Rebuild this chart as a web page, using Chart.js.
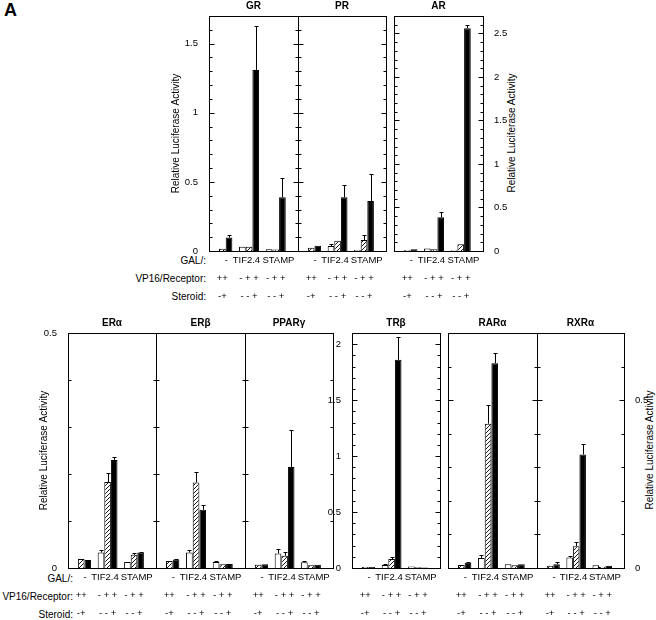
<!DOCTYPE html>
<html>
<head>
<meta charset="utf-8">
<script src="https://cdn.jsdelivr.net/npm/chart.js@4.4.1/dist/chart.umd.min.js"></script>
<style>
  body { margin: 0; background: #fff; width: 656px; height: 620px; overflow: hidden; position: relative;
         font-family: "Liberation Sans", Arial, sans-serif; color: #000; }
  canvas { position: absolute; }
  .t { position: absolute; font-size: 10px; line-height: 12px; white-space: nowrap; }
  .row { transform: translateY(-50%); text-align: right; }
  .vt { transform: translate(-50%, -50%) rotate(-90deg); }
</style>
</head>
<body>
<div class="t" style="left:4px;top:0;font-size:18px;line-height:20px;font-weight:bold">A</div>

<div class="t row" style="right:450px;top:261px">GAL/:</div>
<div class="t row" style="right:450px;top:279px">VP16/Receptor:</div>
<div class="t row" style="right:450px;top:297px">Steroid:</div>
<div class="t row" style="right:583px;top:579px">GAL/:</div>
<div class="t row" style="right:583px;top:597px">VP16/Receptor:</div>
<div class="t row" style="right:583px;top:615px">Steroid:</div>

<div class="t vt" style="left:512px;top:133px">Relative Luciferase Activity</div>
<div class="t vt" style="left:650px;top:450px">Relative Luciferase Activity</div>

<script>
// data
const receptors = ['GR', 'PR', 'AR', 'ERα', 'ERβ', 'PPARγ', 'TRβ', 'RARα', 'RXRα'];
const galFusions = ['-', 'TIF2.4', 'STAMP'];
const vp16Marks = ['++', '- + +', '- + +'];
const steroidMarks = ['-+', '- - +', '- - +'];

// one row per receptor: [-, TIF2.4, STAMP]
// white bars: no VP16/receptor, no steroid
const noVp16 = [
  [null, 0.03, 0.012], [null, 0.036, 0.007], [null, 0.03, 0.01],
  [null, 0.033, 0.013], [null, 0.033, 0.013], [null, 0.031, 0.012],
  [null, 0.027, 0.013], [null, 0.03, 0.011], [null, 0.031, 0.008]
];
// hatched bars: VP16/receptor, no steroid
const vp16Only = [
  [0.017, 0.03, 0.01], [0.024, 0.075, 0.08], [0.01, 0.02, 0.077],
  [0.019, 0.183, 0.028], [0.015, 0.182, 0.008], [0.007, 0.026, 0.006],
  [0.01, 0.08, 0.006], [0.009, 0.43, 0.008], [0.007, 0.065, 0.004]
];
// black bars: VP16/receptor + steroid
const vp16Steroid = [
  [0.097, 1.31, 0.388], [0.038, 0.388, 0.362], [0.02, 0.387, 2.56],
  [0.017, 0.23, 0.033], [0.018, 0.124, 0.0085], [0.008, 0.215, 0.007],
  [0.01, 1.86, 0.005], [0.016, 0.61, 0.011], [0.011, 0.338, 0.007]
];
// error bars (upper half only)
const noVp16Err = [
  [null, null, null], [null, 0.012, null], [null, null, null],
  [null, 0.006, null], [null, 0.005, 0.002], [null, 0.009, 0.002],
  [null, 0.005, null], [null, 0.01, null], [null, 0.006, null]
];
const vp16OnlyErr = [
  [null, null, null], [null, null, 0.035], [null, null, null],
  [null, 0.019, 0.004], [null, 0.023, null], [null, 0.008, null],
  [null, 0.02, null], [null, 0.055, null], [null, 0.012, null]
];
const vp16SteroidErr = [
  [0.018, 0.32, 0.14], [null, 0.087, 0.193], [null, 0.063, 0.04],
  [null, 0.007, 0.002], [0.002, 0.009, null], [null, 0.079, null],
  [null, 0.2, null], [0.002, 0.03, null], [0.008, 0.032, null]
];

const yMax = [1.7, 1.7, 2.7, 0.5, 0.5, 0.5, 2.1, 0.7, 0.7];
const topTicks = [0, 0.5, 1, 1.5];
const arTicks = [0, 0.5, 1, 1.5, 2, 2.5];
const erTicks = [0, 0.5];
const trTicks = [0, 0.5, 1, 1.5, 2];
const rarTicks = [0, 0.5];

// page layout of the panel frames
const panelBoxes = [
  { x0: 209, x1: 298, y0: 16, y1: 251, ticks: topTicks, side: 'left', yTitle: true, padL: 43 },
  { x0: 298, x1: 386, y0: 16, y1: 251, ticks: topTicks },
  { x0: 394, x1: 483, y0: 16, y1: 251, ticks: arTicks, side: 'right' },
  { x0: 68, x1: 156, y0: 333, y1: 568, ticks: erTicks, side: 'left', yTitle: true, padL: 34 },
  { x0: 156, x1: 245, y0: 333, y1: 568, ticks: erTicks },
  { x0: 245, x1: 333, y0: 333, y1: 568, ticks: erTicks },
  { x0: 352, x1: 440, y0: 333, y1: 568, ticks: trTicks, side: 'left' },
  { x0: 448, x1: 537, y0: 333, y1: 568, ticks: rarTicks },
  { x0: 537, x1: 624, y0: 333, y1: 568, ticks: rarTicks, side: 'right' }
];

const FONT = '"Liberation Sans", Arial, sans-serif';
Chart.defaults.font.family = FONT;
Chart.defaults.color = '#000';

const hatch = (() => {
  const c = document.createElement('canvas');
  c.width = c.height = 4;
  const g = c.getContext('2d');
  g.fillStyle = '#fff';
  g.fillRect(0, 0, 4, 4);
  g.strokeStyle = '#000';
  g.lineWidth = 0.9;
  g.beginPath();
  g.moveTo(-1, 5); g.lineTo(5, -1);
  g.moveTo(-1, 1); g.lineTo(1, -1);
  g.moveTo(3, 5); g.lineTo(5, 3);
  g.stroke();
  return g.createPattern(c, 'repeat');
})();

const isOn = (v, list) => list.some(t => Math.abs(t - v) < 1e-6);
const fmt = v => String(Math.round(v * 10) / 10);

// frame, inward tick marks and error bars
const panelFrame = {
  id: 'panelFrame',
  afterDatasetsDraw(chart) {
    const { ctx } = chart;
    const y = chart.scales.y;
    ctx.save();
    ctx.strokeStyle = '#000';
    ctx.lineWidth = 1;
    chart.data.datasets.forEach((ds, d) => {
      chart.getDatasetMeta(d).data.forEach((bar, j) => {
        const e = ds.errorBars[j], v = ds.data[j];
        if (e == null || v == null) return;
        const x = Math.round(bar.x) + 0.5;
        const top = Math.round(y.getPixelForValue(v + e)) + 0.5;
        ctx.beginPath();
        ctx.moveTo(x, bar.y);
        ctx.lineTo(x, top);
        ctx.moveTo(x - 2, top);
        ctx.lineTo(x + 2, top);
        ctx.stroke();
      });
    });
    ctx.restore();
  },
  afterDraw(chart, args, opts) {
    const { ctx, chartArea: a } = chart;
    const y = chart.scales.y;
    ctx.save();
    ctx.strokeStyle = '#000';
    ctx.lineWidth = 1;
    ctx.strokeRect(a.left + 0.5, a.top + 0.5, a.right - a.left, a.bottom - a.top);
    ctx.beginPath();
    y.ticks.forEach(t => {
      const py = Math.round(y.getPixelForValue(t.value)) + 0.5;
      const len = isOn(t.value, opts.majors) ? 5 : 3;
      ctx.moveTo(a.left + 0.5, py);
      ctx.lineTo(a.left + 0.5 + len, py);
      ctx.moveTo(a.right + 0.5, py);
      ctx.lineTo(a.right + 0.5 - len, py);
    });
    ctx.stroke();
    ctx.restore();
  }
};

const T = 16, B = 70;

receptors.forEach((name, p) => {
  const box = panelBoxes[p];
  const L = box.padL || 34, R = 34;
  const w = box.x1 - box.x0 + L + R;
  const h = box.y1 - box.y0 + T + B;
  const cv = document.createElement('canvas');
  cv.width = w;
  cv.height = h;
  cv.style.left = (box.x0 - L) + 'px';
  cv.style.top = (box.y0 - T) + 'px';
  cv.style.width = w + 'px';
  cv.style.height = h + 'px';
  document.body.appendChild(cv);

  const yTicks = (show) => ({
    display: show,
    stepSize: 0.1,
    autoSkip: false,
    padding: 3,
    font: { size: 9.5 },
    callback: v => isOn(v, box.ticks) ? fmt(v) : ''
  });

  new Chart(cv, {
    type: 'bar',
    data: {
      labels: galFusions.map((g, i) => i),
      datasets: [
        { data: noVp16[p], errorBars: noVp16Err[p], backgroundColor: '#fff' },
        { data: vp16Only[p], errorBars: vp16OnlyErr[p], backgroundColor: hatch },
        { data: vp16Steroid[p], errorBars: vp16SteroidErr[p], backgroundColor: '#000' }
      ]
    },
    options: {
      responsive: false,
      animation: false,
      layout: { padding: 0 },
      datasets: {
        bar: { borderColor: '#000', borderWidth: 1, categoryPercentage: 0.75, barPercentage: 1 }
      },
      plugins: {
        legend: { display: false },
        tooltip: { enabled: false },
        title: {
          display: true,
          text: name,
          fullSize: false,
          font: { size: 10, weight: 'bold', lineHeight: '12px' },
          padding: { top: 0, bottom: 4 }
        },
        panelFrame: { majors: box.ticks }
      },
      scales: {
        x: {
          type: 'linear',
          offset: false,
          min: -0.5,
          max: galFusions.length - 0.5 + 1 / 3,
          grid: { display: false },
          border: { display: false },
          afterBuildTicks: s => { s.ticks = galFusions.map((g, i) => ({ value: i })); },
          afterFit: s => { s.height = B; },
          ticks: {
            autoSkip: false,
            maxRotation: 0,
            padding: -7.5,
            font: { size: 9.5, lineHeight: '18px' },
            callback: v => {
              const g = v === 1 ? galFusions[v] + '  ' : v === 2 ? '  ' + galFusions[v] : '   ' + galFusions[v];
              return [g, vp16Marks[v], steroidMarks[v]];
            }
          }
        },
        y: {
          position: 'left',
          min: 0,
          max: yMax[p],
          grid: { display: false },
          border: { display: false },
          afterFit: s => { s.width = L; },
          ticks: yTicks(box.side === 'left'),
          title: {
            display: !!box.yTitle,
            text: 'Relative Luciferase Activity',
            font: { size: 10, lineHeight: '12px' },
            padding: { top: 4, bottom: 4 }
          }
        },
        y2: {
          position: 'right',
          min: 0,
          max: yMax[p],
          grid: { display: false },
          border: { display: false },
          afterFit: s => { s.width = R; },
          ticks: yTicks(box.side === 'right')
        }
      }
    },
    plugins: [panelFrame]
  });
});
</script>
</body>
</html>
